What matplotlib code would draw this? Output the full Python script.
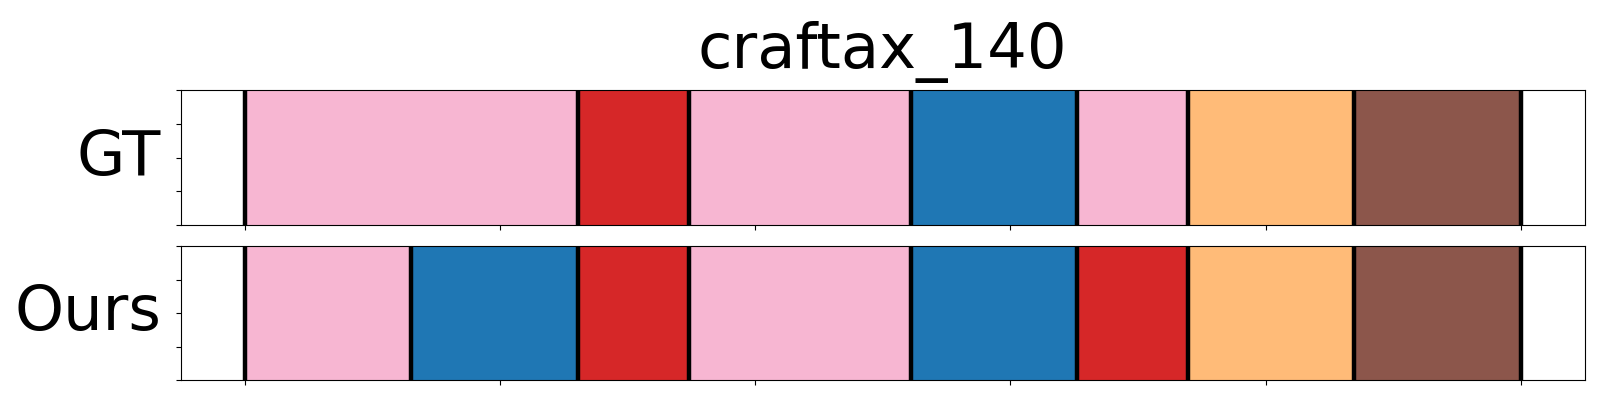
import matplotlib
matplotlib.use("Agg")
import matplotlib.pyplot as plt
import numpy as np

title = "craftax_140"
n_frames = 23
row_names = ["GT", "Ours"]

# segment boundaries (frame index) and action label of each segment
gt_bounds = [0, 6, 8, 12, 15, 17, 20, 23]
gt_labels = [13, 6, 13, 0, 13, 3, 10]
ours_bounds = [0, 3, 6, 8, 12, 15, 17, 20, 23]
ours_labels = [13, 0, 6, 13, 0, 6, 3, 10]

cmap = plt.get_cmap("tab20")

fig = plt.figure(figsize=(16, 4), dpi=100)
ax_gt = fig.add_axes([0.113, 0.4375, 0.8775, 0.3375])
ax_ours = fig.add_axes([0.113, 0.05, 0.8775, 0.335])

for ax, name, bounds, labels in [(ax_gt, row_names[0], gt_bounds, gt_labels),
                                  (ax_ours, row_names[1], ours_bounds, ours_labels)]:
    b = np.array(bounds) / n_frames
    for i, lab in enumerate(labels):
        ax.axvspan(b[i], b[i + 1], color=cmap(lab))
    for x in b:
        ax.axvline(x, color="black", linewidth=3.2)
    ax.set_xlim(-0.05, 1.05)
    ax.set_ylim(0, 1)
    ax.set_xticks(np.linspace(0, 1, 6))
    ax.set_yticks(np.linspace(0, 1, 5))
    ax.set_xticklabels([])
    ax.set_yticklabels([])
    ax.set_ylabel(name, rotation=0, fontsize=45, ha="right", va="center", labelpad=7)

ax_gt.set_title(title, fontsize=45, pad=16)

fig.savefig("out.png", dpi=100)
